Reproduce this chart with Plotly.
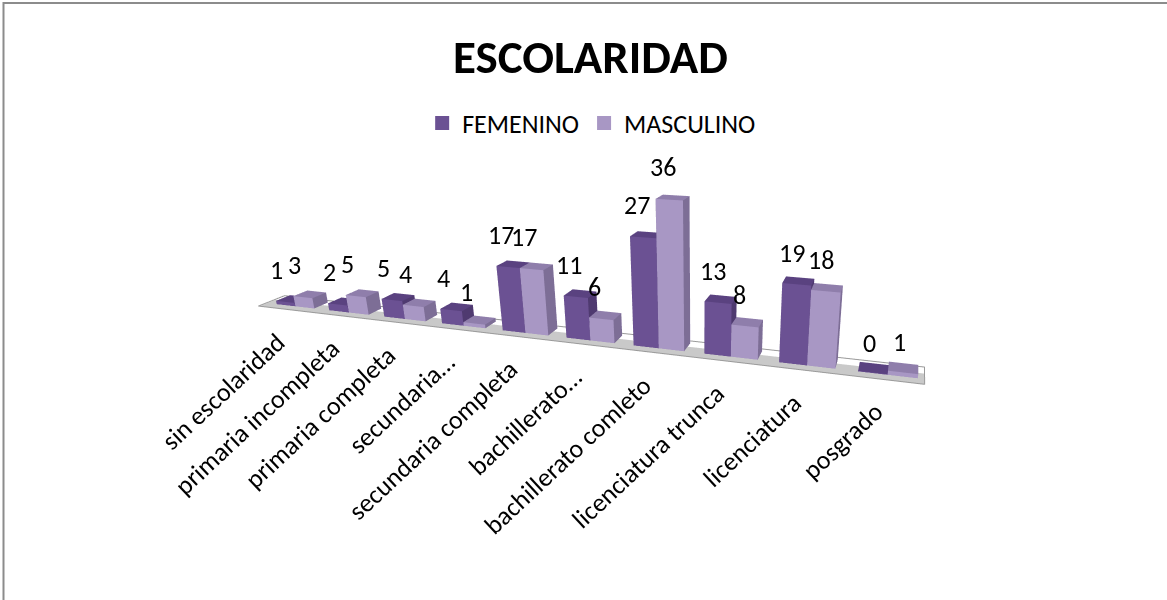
import plotly.graph_objects as go

categories = ["sin escolaridad", "primaria incompleta", "primaria completa", "secundaria…",
              "secundaria completa", "bachillerato…", "bachillerato comleto",
              "licenciatura trunca", "licenciatura", "posgrado"]
femenino = [1, 2, 5, 4, 17, 11, 27, 13, 19, 0]
masculino = [3, 5, 4, 1, 17, 6, 36, 8, 18, 1]
series = [("FEMENINO", femenino, "#6b5193", "#5a4280", "#4f3a70"),
          ("MASCULINO", masculino, "#a897c4", "#8f7eab", "#7d6e96")]
FONT = "Carlito, Liberation Sans, Noto Sans, sans-serif"

BAR_W = 0.36
GROUP_CENTER = 0.56
LABEL_CENTER = 0.5
Y0, Y1 = 0.3, 0.85
FLOOR_GRAY_DEPTH = 0.62

def box(x0, x1, y0, y1, z1, front, top, side):
    z0 = 0
    xs = [x0, x1, x1, x0, x0, x1, x1, x0]
    ys = [y0, y0, y1, y1, y0, y0, y1, y1]
    zs = [z0, z0, z0, z0, z1, z1, z1, z1]
    tris = [(0,1,5,front),(0,5,4,front),(4,5,6,top),(4,6,7,top),(1,2,6,side),(1,6,5,side),
            (0,3,7,side),(0,7,4,side),(3,2,6,front),(3,6,7,front)]
    return xs, ys, zs, tris

fig = go.Figure()
fig.add_trace(go.Mesh3d(x=[0,10,10,0], y=[0,0,FLOOR_GRAY_DEPTH,FLOOR_GRAY_DEPTH], z=[0,0,0,0], i=[0,0], j=[1,2], k=[2,3],
                        facecolor=["#c9c9c9","#c9c9c9"], lighting=dict(ambient=1,diffuse=0,specular=0),
                        hoverinfo="skip", showscale=False))
fig.add_trace(go.Scatter3d(x=[0,0,10,10,0,0], y=[0,1,1,0,0,1], z=[0.05]*6, mode="lines",
                           line=dict(color="#9a9a9a", width=2), showlegend=False, hoverinfo="skip"))
ann = []
for s, (name, vals, front, top, side) in enumerate(series):
    X, Y, Z, I, J, K, C = [], [], [], [], [], [], []
    for c, v in enumerate(vals):
        x0 = c + GROUP_CENTER - BAR_W + s * BAR_W
        xs, ys, zs, tris = box(x0, x0 + BAR_W, Y0, Y1, max(v, 0.15), front, top, side)
        n = len(X)
        X += xs; Y += ys; Z += zs
        for a, b, d, col in tris:
            I.append(a+n); J.append(b+n); K.append(d+n); C.append(col)
        ann.append(dict(x=c + LABEL_CENTER - BAR_W/2 + s * BAR_W, y=0, z=v, text=str(v), showarrow=False,
                        yanchor="bottom", yshift=17, xshift=2,
                        font=dict(size=26, color="#000000", family=FONT)))
    fig.add_trace(go.Mesh3d(x=X, y=Y, z=Z, i=I, j=J, k=K, facecolor=C, flatshading=True,
                            lighting=dict(ambient=1,diffuse=0,specular=0,fresnel=0), hoverinfo="skip"))
    fig.add_trace(go.Scatter3d(x=[None], y=[None], z=[None], mode="markers", name=name,
                               marker=dict(symbol="square", size=14, color=front), showlegend=True))

for c, label in enumerate(categories):
    ann.append(dict(x=c + LABEL_CENTER, y=0, z=0, text=label, showarrow=False, textangle=-43,
                    xanchor="right", yanchor="top", xshift=10, yshift=-14,
                    font=dict(size=26, color="#000000", family=FONT)))

axis = dict(visible=False, showgrid=False, zeroline=False, showbackground=False)
fig.update_layout(
    width=1167, height=600, paper_bgcolor="white", plot_bgcolor="white",
    margin=dict(l=0, r=0, t=0, b=0),
    title=dict(text="<b>ESCOLARIDAD</b>", x=0.506, xanchor="center", y=0.906, yanchor="middle",
               font=dict(size=47, color="#000000", family=FONT)),
    legend=dict(orientation="h", x=0.507, xanchor="center", y=0.795, yanchor="middle",
                font=dict(size=26, color="#000000", family=FONT)),
    scene=dict(xaxis=dict(axis, range=[0,10]), yaxis=dict(axis, range=[0,1]), zaxis=dict(axis, range=[0,40]),
               aspectmode="manual", aspectratio=dict(x=2.43, y=0.125, z=0.55),
               camera=dict(eye=dict(x=1.111, y=-2.086, z=0.667), center=dict(x=0.464, y=0.17, z=-0.165), up=dict(x=0,y=0,z=1)),
               domain=dict(x=[0.2,1], y=[0,1]), annotations=ann),
    shapes=[dict(type="rect", xref="paper", yref="paper", x0=0.003, x1=1.2, y0=-0.2, y1=0.995,
                 line=dict(color="#8c8c8c", width=2))],
)
fig.write_html("out.html", post_script="document.body.style.margin='0';", config={"displayModeBar": False})
